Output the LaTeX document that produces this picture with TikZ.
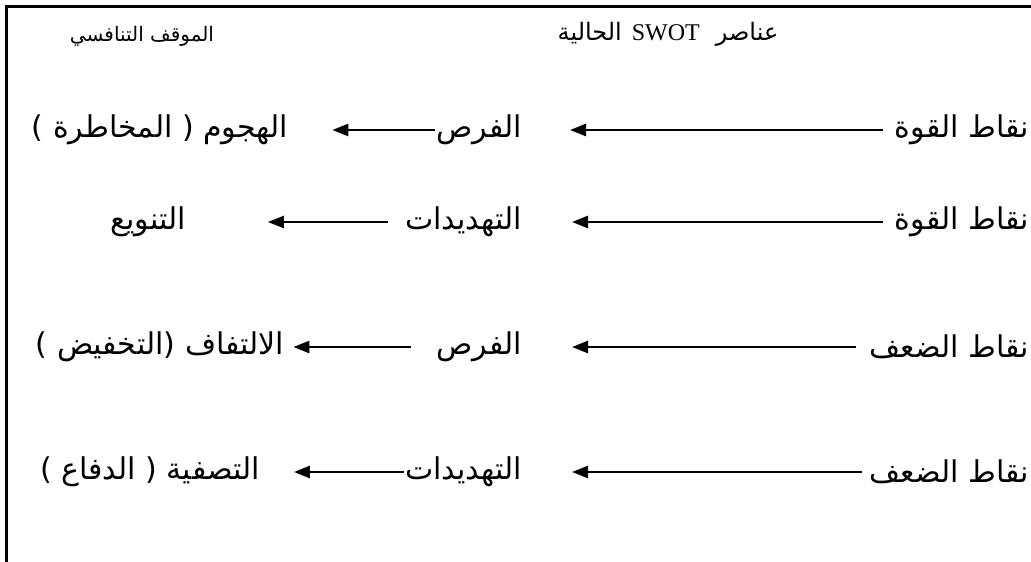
\documentclass[tikz,border=0pt]{standalone}
\usepackage{fontspec}
\usetikzlibrary{arrows.meta, positioning}
\TeXXeTstate=1
\newfontfamily\arabicfont[Script=Arabic]{DejaVu Sans}
\newfontfamily\latinfont{Liberation Serif}
\newcommand{\artxt}[1]{\arabicfont\beginR #1\endR}

\begin{document}
\begin{tikzpicture}[x=1pt, y=-1pt, every node/.style={inner sep=0pt, font=\fontsize{30}{34}\selectfont},
   head/.style={font=\fontsize{20}{24}\selectfont},
   arr/.style={-{Triangle[length=16pt,width=12pt]}, line width=2.5pt}]
   \useasboundingbox (0,0) rectangle (1031,562);
   \draw[line width=3pt] (6,562) -- (6,6) -- (1031,6);

   \node[head] (hpos) at (142,36) {\artxt{الموقف التنافسي}};
   \node[head, font=\fontsize{24}{28}\selectfont] (hswot) at (668,34) {\artxt{عناصر\hspace{16pt}\beginL{\latinfont SWOT}\endL\hspace{10pt}الحالية}};

   \node[anchor=east] (s1) at (1029,130) {\artxt{نقاط القوة}};
   \node[anchor=east] (o1) at (522,130) {\artxt{الفرص}};
   \node (p1) at (160,130) {\artxt{الهجوم ( المخاطرة )}};
   \draw[arr, shorten <=12pt, shorten >=48pt] (s1.west) -- (o1.east);
   \draw[arr, shorten <=1pt, shorten >=44pt] (o1.west) -- (p1.east);

   \node[anchor=east] (s2) at (1029,222) {\artxt{نقاط القوة}};
   \node[anchor=east] (t2) at (522,222) {\artxt{التهديدات}};
   \node (p2) at (148,222) {\artxt{التنويع}};
   \draw[arr, shorten <=12pt, shorten >=50pt] (s2.west) -- (t2.east);
   \draw[arr, shorten <=17pt, shorten >=82pt] (t2.west) -- (p2.east);

   \node[anchor=east] (w3) at (1029,347) {\artxt{نقاط الضعف}};
   \node[anchor=east] (o3) at (522,347) {\artxt{الفرص}};
   \node (p3) at (160,347) {\artxt{الالتفاف (التخفيض )}};
   \draw[arr, shorten <=14pt, shorten >=50pt] (w3.west) -- (o3.east);
   \draw[arr, shorten <=25pt, shorten >=9pt] (o3.west) -- (p3.east);

   \node[anchor=east] (w4) at (1029,472) {\artxt{نقاط الضعف}};
   \node[anchor=east] (t4) at (522,472) {\artxt{التهديدات}};
   \node (p4) at (150,472) {\artxt{التصفية ( الدفاع )}};
   \draw[arr, shorten <=8pt, shorten >=50pt] (w4.west) -- (t4.east);
   \draw[arr, shorten <=1pt, shorten >=34pt] (t4.west) -- (p4.east);
\end{tikzpicture}
\end{document}
